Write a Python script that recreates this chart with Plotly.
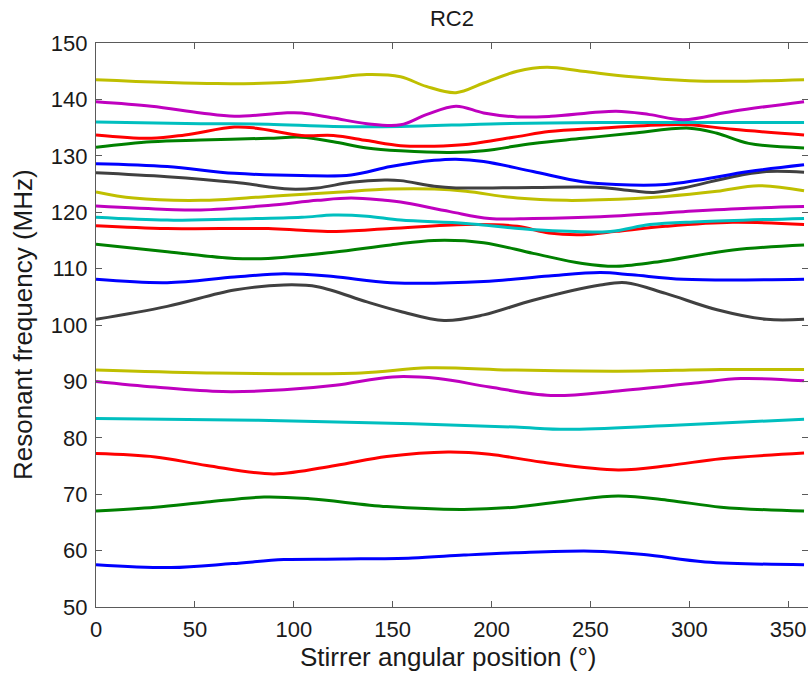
import plotly.graph_objects as go

# Stirrer angle (deg) / resonant frequency (MHz) samples for each cavity mode, lowest to highest
ANG_M1 = [0, 38, 69, 95, 125, 160, 186, 212, 251, 277, 308, 358]
FRQ_M1 = [57.5, 57.0, 57.7, 58.4, 58.5, 58.7, 59.2, 59.6, 59.9, 59.3, 58.0, 57.5]

ANG_M2 = [0, 30, 56, 85, 108, 147, 186, 212, 238, 264, 290, 316, 358]
FRQ_M2 = [67.0, 67.7, 68.6, 69.5, 69.2, 67.8, 67.3, 67.7, 68.8, 69.7, 68.9, 67.7, 67.0]

ANG_M3 = [0, 30, 56, 90, 121, 147, 178, 199, 225, 264, 290, 316, 358]
FRQ_M3 = [77.2, 76.6, 75.1, 73.6, 75.1, 76.7, 77.5, 77.1, 75.7, 74.3, 75.1, 76.3, 77.3]

ANG_M4 = [0, 82, 160, 212, 238, 290, 358]
FRQ_M4 = [83.4, 83.1, 82.5, 81.9, 81.5, 82.2, 83.3]

ANG_M5 = [0, 30, 64, 95, 121, 150, 173, 199, 230, 264, 303, 326, 358]
FRQ_M5 = [90.0, 89.0, 88.2, 88.5, 89.3, 90.8, 90.5, 89.0, 87.5, 88.3, 89.7, 90.5, 90.1]

ANG_M6 = [0, 56, 134, 168, 212, 264, 316, 358]
FRQ_M6 = [92.0, 91.5, 91.5, 92.4, 92.0, 91.8, 92.1, 92.1]

ANG_M7 = [0, 36, 70, 95, 112, 137, 154, 176, 196, 221, 255, 268, 288, 314, 339, 358]
FRQ_M7 = [101.0, 103.3, 106.2, 107.1, 106.8, 104.1, 102.4, 100.8, 101.8, 104.4, 107.1, 107.5, 105.6, 102.7, 101.0, 101.0]

ANG_M8 = [0, 36, 70, 95, 120, 149, 196, 229, 255, 271, 297, 358]
FRQ_M8 = [108.1, 107.5, 108.5, 109.1, 108.6, 107.5, 107.7, 108.7, 109.3, 108.9, 108.1, 108.1]

ANG_M9 = [0, 36, 70, 87, 120, 149, 171, 196, 221, 246, 263, 288, 322, 358]
FRQ_M9 = [114.3, 113.0, 111.8, 111.8, 112.9, 114.2, 115.0, 114.6, 112.7, 110.9, 110.4, 111.4, 113.3, 114.2]

ANG_M10 = [0, 36, 87, 104, 120, 149, 187, 213, 229, 246, 263, 288, 322, 358]
FRQ_M10 = [117.6, 117.1, 117.1, 116.8, 116.6, 117.1, 117.8, 117.5, 116.3, 116.0, 116.6, 117.5, 118.2, 117.8]

ANG_M11 = [0, 36, 70, 104, 120, 137, 154, 187, 221, 260, 280, 305, 358]
FRQ_M11 = [119.1, 118.6, 118.8, 119.1, 119.5, 119.3, 118.6, 118.0, 116.9, 116.6, 117.8, 118.3, 118.9]

ANG_M12 = [0, 36, 53, 87, 112, 129, 146, 154, 179, 199, 221, 255, 297, 330, 358]
FRQ_M12 = [121.1, 120.5, 120.4, 121.2, 122.1, 122.5, 122.1, 121.8, 120.1, 118.9, 118.9, 119.2, 120.1, 120.7, 121.0]

ANG_M13 = [0, 19, 53, 87, 120, 149, 171, 187, 213, 238, 255, 288, 314, 335, 358]
FRQ_M13 = [123.6, 122.5, 122.1, 122.8, 123.5, 124.1, 124.1, 123.7, 122.5, 122.1, 122.2, 122.8, 123.7, 124.7, 123.8]

ANG_M14 = [0, 36, 70, 98, 112, 129, 146, 154, 171, 182, 221, 255, 271, 282, 297, 322, 339, 358]
FRQ_M14 = [127.0, 126.3, 125.3, 124.1, 124.3, 125.3, 125.7, 125.6, 124.6, 124.3, 124.4, 124.4, 123.8, 123.5, 124.3, 126.3, 127.2, 127.1]

ANG_M15 = [0, 36, 70, 104, 129, 149, 171, 182, 196, 221, 246, 263, 288, 305, 330, 358]
FRQ_M15 = [128.6, 128.1, 126.9, 126.5, 126.6, 128.1, 129.2, 129.4, 129.0, 127.2, 125.4, 124.9, 124.9, 125.7, 127.2, 128.4]

ANG_M16 = [0, 28, 53, 87, 104, 120, 137, 154, 179, 196, 221, 246, 271, 300, 314, 330, 358]
FRQ_M16 = [131.5, 132.5, 132.8, 133.1, 133.3, 132.5, 131.4, 130.9, 130.6, 130.9, 132.2, 133.1, 134.0, 134.9, 134.0, 132.2, 131.4]

ANG_M17 = [0, 28, 45, 70, 81, 104, 120, 137, 154, 171, 187, 213, 229, 255, 288, 300, 322, 358]
FRQ_M17 = [133.7, 133.1, 133.7, 135.1, 134.9, 133.6, 133.6, 132.7, 131.8, 131.7, 132.0, 133.4, 134.3, 134.9, 135.5, 135.5, 134.7, 133.7]

ANG_M18 = [0, 53, 87, 120, 154, 204, 255, 305, 358]
FRQ_M18 = [136.0, 135.7, 135.6, 135.2, 135.2, 135.7, 135.9, 135.9, 135.9]

ANG_M19 = [0, 28, 53, 70, 95, 104, 120, 137, 154, 167, 182, 196, 213, 230, 263, 280, 297, 322, 358]
FRQ_M19 = [139.6, 138.8, 137.6, 137.0, 137.6, 137.6, 136.7, 135.7, 135.5, 137.3, 138.8, 137.6, 136.9, 137.0, 137.9, 137.3, 136.4, 137.9, 139.6]

ANG_M20 = [0, 61, 95, 120, 137, 154, 167, 182, 196, 213, 228, 246, 271, 300, 322, 358]
FRQ_M20 = [143.5, 142.8, 143.0, 143.8, 144.4, 144.0, 142.3, 141.2, 142.9, 145.0, 145.7, 145.0, 144.0, 143.3, 143.2, 143.5]

X_TICKS = [0, 50, 100, 150, 200, 250, 300, 350]
Y_TICKS = [50, 60, 70, 80, 90, 100, 110, 120, 130, 140, 150]

# MATLAB-style colour cycle: b, g, r, c, m, y, k
COLOR_CYCLE = ["#0000FF", "#008000", "#FF0000", "#00BFBF", "#BF00BF", "#BFBF00", "#404040"]

modes = [
    (ANG_M1, FRQ_M1), (ANG_M2, FRQ_M2), (ANG_M3, FRQ_M3), (ANG_M4, FRQ_M4),
    (ANG_M5, FRQ_M5), (ANG_M6, FRQ_M6), (ANG_M7, FRQ_M7), (ANG_M8, FRQ_M8),
    (ANG_M9, FRQ_M9), (ANG_M10, FRQ_M10), (ANG_M11, FRQ_M11), (ANG_M12, FRQ_M12),
    (ANG_M13, FRQ_M13), (ANG_M14, FRQ_M14), (ANG_M15, FRQ_M15), (ANG_M16, FRQ_M16),
    (ANG_M17, FRQ_M17), (ANG_M18, FRQ_M18), (ANG_M19, FRQ_M19), (ANG_M20, FRQ_M20),
]

fig = go.Figure()
for i, (ang, frq) in enumerate(modes):
    fig.add_trace(go.Scatter(
        x=ang, y=frq, mode="lines",
        line=dict(color=COLOR_CYCLE[i % len(COLOR_CYCLE)], width=3, shape="spline", smoothing=1.0),
        showlegend=False, hoverinfo="skip",
    ))

FONT = "Liberation Sans, Arial, sans-serif"
axis_common = dict(
    showline=True, linecolor="#5a5a5a", linewidth=1.2, mirror="ticks",
    ticks="inside", ticklen=6, tickcolor="#5a5a5a", tickwidth=1.2,
    showgrid=False, zeroline=False,
    tickfont=dict(family=FONT, size=22, color="#1a1a1a"),
)

fig.update_layout(
    width=808, height=673,
    margin=dict(l=96, r=0, t=43, b=66),
    paper_bgcolor="white", plot_bgcolor="white",
    title=dict(text="RC2", x=0.5, xref="paper", y=1 - 18 / 673, yref="container",
               xanchor="center", yanchor="middle",
               font=dict(family=FONT, size=22, color="#1a1a1a")),
    xaxis=dict(range=[0, 360], tickvals=X_TICKS, ticklabelstandoff=2, **axis_common),
    yaxis=dict(range=[50, 150], tickvals=Y_TICKS, ticklabelstandoff=3, **axis_common),
    annotations=[
        dict(text="Stirrer angular position (°)", xref="paper", yref="paper",
             x=0.495, y=-0.089, xanchor="center", yanchor="middle", showarrow=False,
             font=dict(family=FONT, size=26, color="#1a1a1a")),
        dict(text="Resonant frequency (MHz)", xref="paper", yref="paper",
             x=-0.1025, y=0.5, xanchor="center", yanchor="middle", showarrow=False,
             textangle=-90, font=dict(family=FONT, size=26, color="#1a1a1a")),
    ],
)

fig.write_html("out.html")
